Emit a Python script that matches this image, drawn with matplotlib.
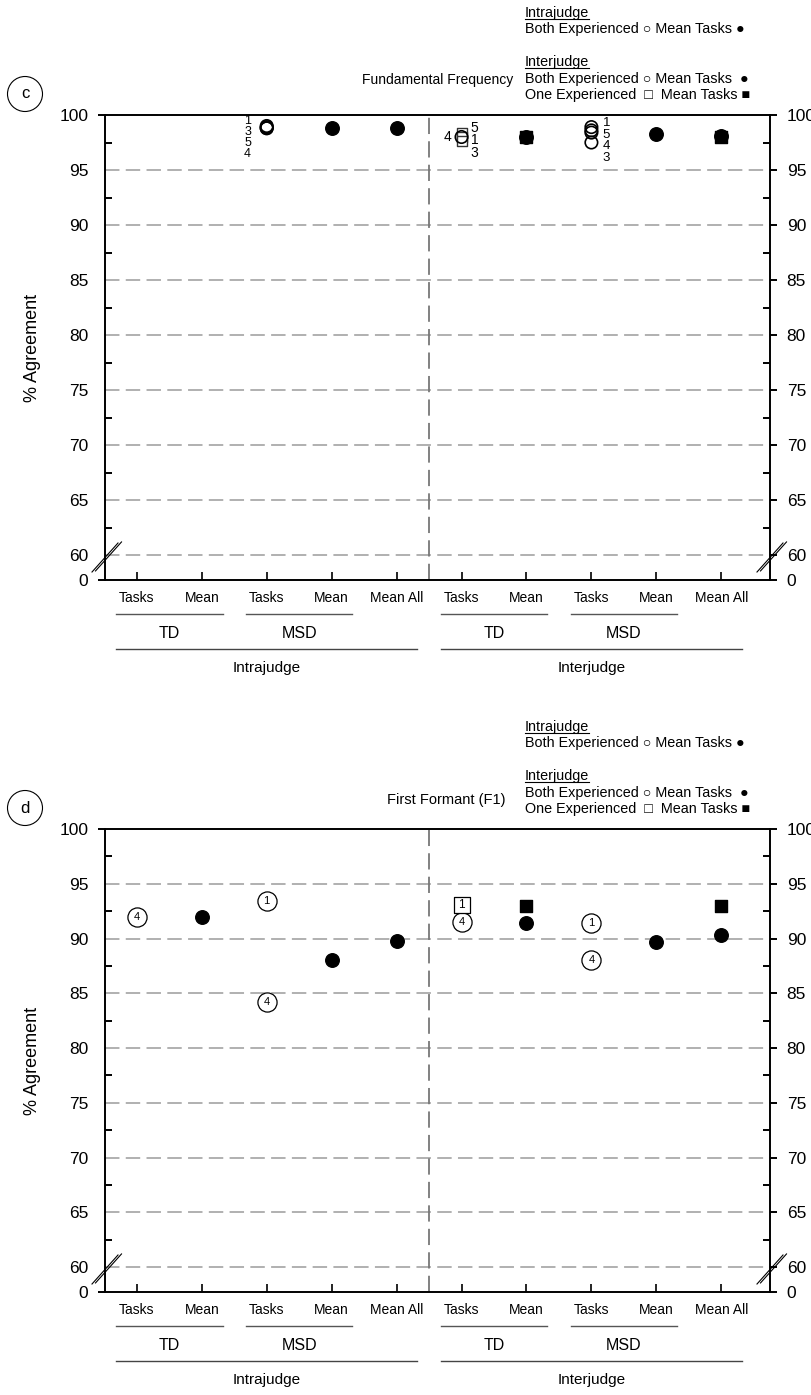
import matplotlib
matplotlib.use("Agg")
import matplotlib.pyplot as plt
from matplotlib.lines import Line2D

plt.rcParams['font.family'] = ['Liberation Sans', 'DejaVu Sans']

# the 10 columns along the bottom
categories = ['Tasks', 'Mean', 'Tasks', 'Mean', 'Mean All',
              'Tasks', 'Mean', 'Tasks', 'Mean', 'Mean All']
yticks_major = [60, 65, 70, 75, 80, 85, 90, 95, 100]
yticks_minor = [62.5, 67.5, 72.5, 77.5, 82.5, 87.5, 92.5, 97.5]

# --- panel c: fundamental frequency ---
f0_open_circ_x = [2, 2, 2, 2, 5, 7, 7, 7, 7]
f0_open_circ_y = [99.0, 98.9, 98.8, 98.8, 98.0, 98.9, 98.6, 98.4, 97.5]
f0_open_sq_x = [5, 5, 5]
f0_open_sq_y = [98.4, 98.0, 97.6]
f0_fill_circ_x = [3, 4, 6, 8, 9]
f0_fill_circ_y = [98.8, 98.8, 98.0, 98.3, 98.1]
f0_fill_sq_x = [6, 9]
f0_fill_sq_y = [98.0, 98.0]
# task number stacks next to the markers
f0_stack_x = [2, 5, 5, 7]
f0_stack_y = [98.8, 98.0, 98.0, 98.4]
f0_stack_labels = [['1', '3', '5', '4'], ['4'], ['5', '1', '3'], ['1', '5', '4', '3']]

# --- panel d: first formant ---
f1_circ_x = [0, 2, 2, 5, 7, 7]
f1_circ_y = [92.0, 93.4, 84.2, 91.5, 91.4, 88.0]
f1_circ_lab = ['4', '1', '4', '4', '1', '4']
f1_box_x = [5]
f1_box_y = [93.1]
f1_box_lab = ['1']
f1_fill_circ_x = [1, 3, 4, 6, 8, 9]
f1_fill_circ_y = [92.0, 88.0, 89.8, 91.4, 89.7, 90.3]
f1_fill_sq_x = [6, 9]
f1_fill_sq_y = [93.0, 93.0]

W, H = 812, 1395
fig = plt.figure(figsize=(W / 100, H / 100), dpi=100)

YBOT = 57.73  # where the "0" sits below the axis break


def setup_axes(top_px, bot_px, title, title_size, title_x, title_pad, letter):
    ax = fig.add_axes([105 / W, 1 - bot_px / H, 665 / W, (bot_px - top_px) / H])
    ax.set_xlim(-0.49, 9.75)
    ax.set_ylim(YBOT, 100)
    for s in ax.spines.values():
        s.set_linewidth(1.4)

    # dashed grid and the divider between intra / inter
    for v in yticks_major[:-1]:
        ax.axhline(v, color='#aaaaaa', lw=1.3, ls=(0, (8, 3.5)), zorder=0)
    ax.axvline(4.5, color='#777777', lw=1.3, ls=(0, (9, 4)), zorder=0)

    ax.set_yticks([YBOT] + yticks_major)
    ax.set_yticklabels(['0'] + [str(v) for v in yticks_major])
    ax.set_yticks(yticks_minor, minor=True)
    ax.tick_params(axis='y', which='major', left=True, right=True,
                   labelleft=True, labelright=True, direction='out',
                   length=5, width=1.4, labelsize=12.5, pad=7)
    ax.tick_params(axis='y', which='minor', left=True, right=True,
                   direction='in', length=5, width=1.4)
    # on the left only the 0 and 100 ticks stick out
    for t in ax.yaxis.get_major_ticks()[1:-1]:
        t.tick1line.set_visible(False)

    ax.set_xticks(range(len(categories)))
    ax.set_xticklabels(categories)
    ax.tick_params(axis='x', direction='in', length=6, width=1.2,
                   labelsize=10, pad=8)

    ax.set_ylabel('% Agreement', fontsize=13, labelpad=13)
    ax.set_title(title, fontsize=title_size, pad=title_pad, x=title_x)

    # axis break marks on both sides
    h = bot_px - top_px
    for xs in (0, 1):
        for off in (0, 3.5):
            ax.add_line(Line2D([xs + (-13 + off) / 665, xs + (13 + off) / 665],
                               [(8 + off * 0.3) / h, (37 + off * 0.3) / h],
                               transform=ax.transAxes, color='black', lw=0.8,
                               clip_on=False))

    # grouping lines and labels under the ticks
    tr = ax.get_xaxis_transform()
    for a, b in [(0, 1), (2, 3), (5, 6), (7, 8)]:
        ax.plot([a - 0.32, b + 0.32], [-34 / h] * 2, transform=tr,
                color='#555555', lw=1, clip_on=False)
    for a, b in [(0, 4), (5, 9)]:
        ax.plot([a - 0.32, b + 0.32], [-69 / h] * 2, transform=tr,
                color='#444444', lw=1, clip_on=False)
    for xx, lab in [(0.5, 'TD'), (2.5, 'MSD'), (5.5, 'TD'), (7.5, 'MSD')]:
        ax.text(xx, -54 / h, lab, transform=tr, ha='center', va='center',
                fontsize=11.5)
    for xx, lab in [(2, 'Intrajudge'), (7, 'Interjudge')]:
        ax.text(xx, -88 / h, lab, transform=tr, ha='center', va='center',
                fontsize=11)

    fig.text(25 / W, 1 - (top_px - 21) / H, letter, ha='center', va='center',
             fontsize=12, bbox=dict(boxstyle='circle,pad=0.6', fc='white',
                                    ec='black', lw=0.8))

    # legend block in the top right
    y0 = top_px - 115
    items = [(13, 'Intrajudge', True),
             (29, 'Both Experienced \u25cb Mean Tasks \u25cf', False),
             (62, 'Interjudge', True),
             (79, 'Both Experienced \u25cb Mean Tasks  \u25cf', False),
             (95, 'One Experienced  \u25a1  Mean Tasks \u25a0', False)]
    for yy, s, ul in items:
        t = fig.text(525 / W, 1 - (y0 + yy) / H, s, ha='left', va='center',
                     fontsize=10.4)
        if ul:
            fig.canvas.draw()
            bb = t.get_window_extent()
            fig.add_artist(Line2D([bb.x0 / W, bb.x1 / W],
                                  [(bb.y0 + 1) / H] * 2, color='black', lw=0.8))
    return ax


# panel c
ax1 = setup_axes(115, 580, 'Fundamental Frequency', 10, 0.5, 22, 'c')
ax1.scatter(f0_open_sq_x, f0_open_sq_y, marker='s', s=45, facecolors='white',
            edgecolors='#333333', linewidths=1.0, zorder=3)
ax1.scatter(f0_open_circ_x, f0_open_circ_y, marker='o', s=80, facecolors='none',
            edgecolors='black', linewidths=1.2, zorder=4)
ax1.scatter(f0_fill_sq_x, f0_fill_sq_y, marker='s', s=80, color='black', zorder=3)
ax1.scatter(f0_fill_circ_x, f0_fill_circ_y, marker='o', s=95, color='black', zorder=4)

stack_fmt = [(-13.7, 5, 7.8, 9), (-10, 0, 8, 10), (9.4, 6.5, 9, 10), (10.8, 7, 8.4, 9.5)]
for x, y, labs, (dx, dy0, step, fs) in zip(f0_stack_x, f0_stack_y, f0_stack_labels, stack_fmt):
    for i, lab in enumerate(labs):
        ax1.annotate(lab, (x, y), xytext=(dx, dy0 - i * step),
                     textcoords='offset points', ha='center', va='center',
                     fontsize=fs)

# panel d
ax2 = setup_axes(829, 1292, 'First Formant (F1)', 10.5, 0.513, 18, 'd')
ax2.scatter(f1_circ_x, f1_circ_y, marker='o', s=190, facecolors='white',
            edgecolors='black', linewidths=0.9, zorder=3)
for x, y, lab in zip(f1_circ_x, f1_circ_y, f1_circ_lab):
    ax2.text(x, y, lab, ha='center', va='center', fontsize=8, zorder=4)
ax2.scatter(f1_box_x, f1_box_y, marker='s', s=130, facecolors='white',
            edgecolors='black', linewidths=0.9, zorder=3)
for x, y, lab in zip(f1_box_x, f1_box_y, f1_box_lab):
    ax2.text(x, y, lab, ha='center', va='center', fontsize=8.5, zorder=4)
ax2.scatter(f1_fill_sq_x, f1_fill_sq_y, marker='s', s=80, color='black', zorder=3)
ax2.scatter(f1_fill_circ_x, f1_fill_circ_y, marker='o', s=95, color='black', zorder=4)

fig.savefig('out.png', dpi=100)
